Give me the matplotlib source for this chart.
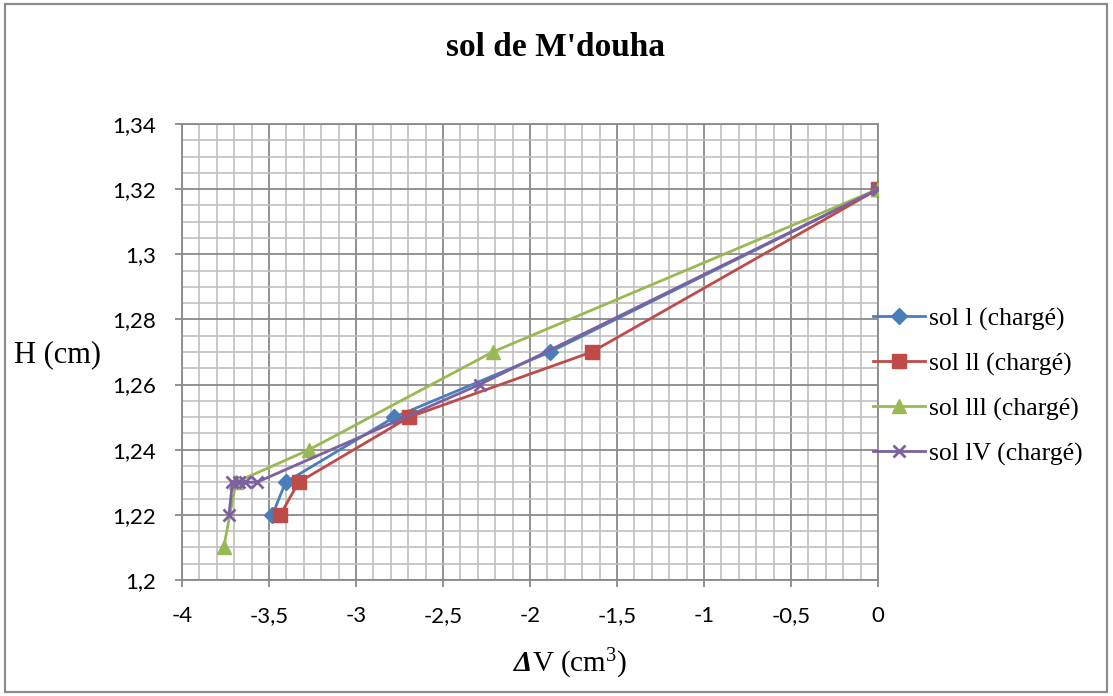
import matplotlib
matplotlib.use("Agg")
import matplotlib.pyplot as plt
from matplotlib.patches import Rectangle
from matplotlib.ticker import MultipleLocator, FuncFormatter

# Volume change (cm3) and height (cm) for each loaded soil sample
dv_sol1 = [0, -1.885, -2.78, -3.405, -3.48]
h_sol1 = [1.32, 1.27, 1.25, 1.23, 1.22]

dv_sol2 = [0, -1.645, -2.695, -3.33, -3.435]
h_sol2 = [1.32, 1.27, 1.25, 1.23, 1.22]

dv_sol3 = [0, -2.215, -3.27, -3.69, -3.76]
h_sol3 = [1.32, 1.27, 1.24, 1.23, 1.21]

dv_sol4 = [0, -2.29, -3.57, -3.64, -3.67, -3.71, -3.73]
h_sol4 = [1.32, 1.26, 1.23, 1.23, 1.23, 1.23, 1.22]

labels = ["sol l (chargé)", "sol ll (chargé)", "sol lll (chargé)", "sol lV (chargé)"]
title = "sol de M'douha"

plt.rcParams["mathtext.fontset"] = "custom"
plt.rcParams["mathtext.rm"] = "Liberation Serif"
plt.rcParams["mathtext.it"] = "Liberation Serif:italic"
plt.rcParams["mathtext.bf"] = "Liberation Serif:bold:italic"

W, H = 1113, 696
fig = plt.figure(figsize=(W / 100, H / 100), dpi=100)
fig.patch.set_facecolor("white")

# outer chart frame
fig.patches.append(Rectangle((5 / W, 4 / H), 1102 / W, 688 / H, transform=fig.transFigure,
                             fill=False, edgecolor="#8c8c8c", linewidth=1.6))

left, right, top, bottom = 182, 878, 124, 580
ax = fig.add_axes([left / W, 1 - bottom / H, (right - left) / W, (bottom - top) / H])

ax.set_xlim(-4, 0)
ax.set_ylim(1.2, 1.34)
ax.xaxis.set_major_locator(MultipleLocator(0.5))
ax.xaxis.set_minor_locator(MultipleLocator(0.1))
ax.yaxis.set_major_locator(MultipleLocator(0.02))
ax.yaxis.set_minor_locator(MultipleLocator(0.005))

def comma(v, pos):
    s = ("%.2f" % v).rstrip("0").rstrip(".")
    if s == "-0":
        s = "0"
    return s.replace(".", ",")

ax.xaxis.set_major_formatter(FuncFormatter(comma))
ax.yaxis.set_major_formatter(FuncFormatter(comma))

ax.grid(which="major", color="#8a8a8a", linewidth=1.3)
ax.grid(which="minor", color="#c0c0c0", linewidth=1.2)
ax.set_axisbelow(True)
for s in ax.spines.values():
    s.set_color("#8a8a8a")
    s.set_linewidth(1.3)
ax.tick_params(which="major", length=5, color="#8a8a8a", width=1.3, labelsize=16)
ax.tick_params(which="minor", length=0)
ax.tick_params(axis="y", pad=14)
ax.tick_params(axis="x", pad=14)
for t in ax.get_xticklabels() + ax.get_yticklabels():
    t.set_fontfamily("Lato")

lw = 2.0
ax.plot(dv_sol1, h_sol1, color="#4a7ebb", marker="D", markersize=8.5, linewidth=lw, label=labels[0], zorder=3)
ax.plot(dv_sol2, h_sol2, color="#be4b48", marker="s", markersize=10, linewidth=lw, label=labels[1], zorder=3)
ax.plot(dv_sol3, h_sol3, color="#98b954", marker="^", markersize=10, linewidth=lw, label=labels[2], zorder=3)
ax.plot(dv_sol4, h_sol4, color="#7d60a0", marker="x", markersize=9, markeredgewidth=2,
        linewidth=lw, label=labels[3], zorder=4)

fig.text(555 / W, 1 - 48 / H, title, ha="center", va="center",
         fontfamily="Liberation Serif", fontweight="bold", fontsize=24)
fig.text(14 / W, 1 - 355 / H, "H (cm)", ha="left", va="center",
         fontfamily="Liberation Serif", fontsize=22)
fig.text(570 / W, 1 - 664 / H, r"$\mathbf{\Delta}\mathrm{V\ (cm^{3})}$", ha="center", va="center",
         fontsize=21)

leg = fig.legend(loc="upper left", bbox_to_anchor=(863 / W, 1 - 297 / H), frameon=False,
                 prop={"family": "Liberation Serif", "size": 18.5}, handlelength=2.0,
                 handletextpad=0.15, labelspacing=0.84, borderaxespad=0)

fig.savefig("out.png", dpi=100, facecolor="white")
